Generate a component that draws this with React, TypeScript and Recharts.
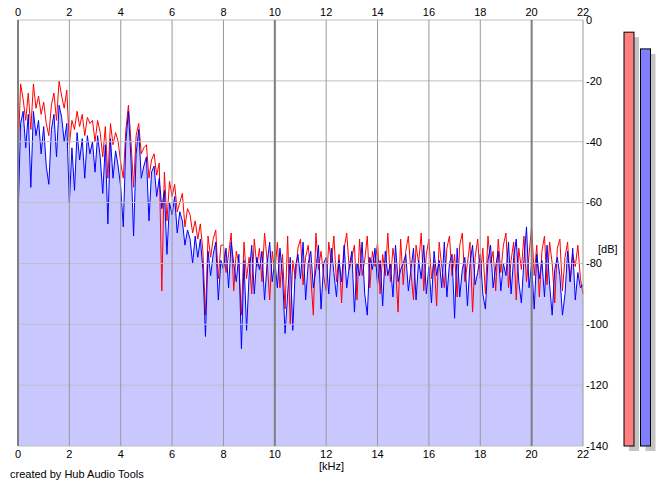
import {
  ComposedChart,
  BarChart,
  Area,
  Line,
  Bar,
  XAxis,
  YAxis,
  CartesianGrid,
  ReferenceLine,
} from "recharts";

// spectrum bins every 0.1 kHz, 0 .. 22 kHz
const STEP_KHZ = 0.1;

// lower channel (blue, filled)
const blueDb = [
  -66, -34, -30, -42, -31, -55, -30, -38, -33, -44,
  -35, -48, -54, -36, -31, -45, -28, -32, -40, -34,
  -60, -42, -56, -37, -46, -39, -52, -38, -44, -40,
  -50, -38, -45, -57, -41, -67, -39, -52, -43, -48,
  -55, -68, -40, -30, -46, -71, -44, -36, -52, -48,
  -45, -66, -50, -48, -58, -52, -62, -56, -77, -60,
  -64, -58, -70, -63, -66, -74, -69, -72, -80, -71,
  -78, -72, -82, -104, -76, -84, -77, -73, -92, -79,
  -82, -75, -88, -73, -80, -86, -77, -108, -79, -102,
  -84, -74, -90, -78, -82, -76, -92, -80, -73, -86,
  -79, -88, -75, -84, -103, -90, -78, -102, -81, -77,
  -85, -73, -92, -80, -76, -88, -82, -74, -95, -80,
  -78, -90, -75, -83, -91, -79, -86, -74, -88, -81,
  -76, -96, -80, -84, -73, -90, -97, -78, -82, -75,
  -87, -79, -94, -76, -84, -80, -91, -74, -86, -82,
  -80, -77, -89, -82, -75, -92, -79, -85, -74, -90,
  -81, -93, -76, -84, -79, -88, -73, -91, -80, -77,
  -98, -75, -91, -82, -78, -94, -80, -74, -87, -83,
  -77, -90, -95, -79, -74, -88, -81, -76, -89, -80,
  -84, -73, -90, -78, -72, -86, -93, -79, -68, -88,
  -80, -95, -77, -85, -79, -91, -74, -87, -97, -82,
  -78, -84, -97, -90, -76, -86, -75, -92, -83, -88,
  -87,
];

// upper channel (red)
const redDb = [
  -46, -21, -26, -33, -24, -36, -21, -29, -25, -31,
  -27, -34, -38, -28, -24, -33, -20, -25, -29, -23,
  -41, -33, -36, -30, -35, -31, -38, -32, -34, -33,
  -40, -33, -37, -45, -35, -52, -34, -41, -37, -40,
  -47, -52, -36, -28, -40, -55, -38, -34, -44, -42,
  -41, -52, -46, -44, -51, -47, -89, -50, -66, -53,
  -58, -54, -63, -60, -57, -68, -62, -64, -70, -66,
  -72, -67, -76, -97, -71, -78, -72, -69, -85, -74,
  -74, -83, -77, -70, -89, -76, -80, -97, -73, -85,
  -78, -90, -72, -81, -75, -86, -70, -79, -92, -76,
  -83, -73, -88, -77, -95, -71, -100, -79, -85, -75,
  -72, -87, -78, -74, -84, -97, -70, -82, -76, -84,
  -89, -73, -80, -71, -86, -77, -93, -75, -70, -82,
  -78, -74, -92, -72, -84, -79, -71, -88, -76, -81,
  -73, -90, -77, -84, -70, -86, -75, -81, -96, -72,
  -87, -76, -71, -83, -92, -74, -80, -70, -89, -77,
  -72, -85, -79, -94, -73, -81, -88, -75, -71, -84,
  -77, -91, -74, -70, -86, -80, -73, -96, -78, -72,
  -85, -75, -90, -71, -80, -76, -89, -72, -83, -74,
  -70, -88, -79, -73, -92, -75, -82, -71, -86, -77,
  -68, -84, -74, -91, -76, -71, -87, -73, -80, -93,
  -75, -72, -89, -78, -73, -86, -77, -81, -74, -85,
  -90,
];

const freqTicks = [0, 2, 4, 6, 8, 10, 12, 14, 16, 18, 20, 22];
const dbTicks = [0, -20, -40, -60, -80, -100, -120, -140];
const majorFreqs = [0, 10, 20];

// level meters on the right (dB)
const meterLevels = [-4, -9.5];
const meterColors = ["#ff8080", "#8080ff"];

const data = blueDb.map((b, i) => ({
  f: Math.round(i * STEP_KHZ * 10) / 10,
  blue: b,
  red: redDb[i],
}));

const meterData = meterLevels.map((lvl, i) => ({
  name: i === 0 ? "L" : "R",
  range: [-140, lvl],
  color: meterColors[i],
}));

const FONT = "'Liberation Sans', Arial, sans-serif";
const tickStyle = { fill: "#000", fontSize: 11, fontFamily: FONT };

const MeterShape = (p: any) => {
  const { x, y, width, height, payload } = p;
  return (
    <g>
      <rect x={x + 5} y={y + 5} width={width} height={height} fill="#c4c4c4" />
      <rect
        x={x}
        y={y}
        width={width}
        height={height}
        fill={payload.color}
        stroke="#000"
        strokeWidth={1}
      />
    </g>
  );
};

export default function App() {
  return (
    <div
      style={{
        position: "absolute",
        left: 0,
        top: 0,
        width: 665,
        height: 487,
        background: "#fff",
        fontFamily: FONT,
      }}
    >
      <ComposedChart
        width={665}
        height={487}
        data={data}
        margin={{ top: 0, right: 52, bottom: 21, left: 18 }}
      >
        <XAxis
          xAxisId="top"
          orientation="top"
          dataKey="f"
          type="number"
          domain={[0, 22]}
          ticks={freqTicks}
          interval={0}
          height={20}
          tickLine={false}
          axisLine={false}
          tickSize={0}
          tickMargin={4}
          tick={tickStyle}
        />
        <XAxis
          xAxisId="bottom"
          orientation="bottom"
          dataKey="f"
          type="number"
          domain={[0, 22]}
          ticks={freqTicks}
          interval={0}
          height={20}
          tickLine={false}
          axisLine={false}
          tickSize={0}
          tickMargin={4}
          tick={tickStyle}
        />
        <YAxis
          orientation="right"
          type="number"
          domain={[-140, 0]}
          ticks={dbTicks}
          interval={0}
          width={30}
          tickLine={false}
          axisLine={false}
          tickSize={0}
          tickMargin={3}
          tick={tickStyle}
        />
        <Area
          xAxisId="bottom"
          dataKey="blue"
          type="linear"
          baseValue={-140}
          fill="#c8c8ff"
          fillOpacity={1}
          stroke="none"
          isAnimationActive={false}
        />
        <Line
          xAxisId="bottom"
          dataKey="red"
          type="linear"
          stroke="#ff0000"
          strokeWidth={1}
          dot={false}
          isAnimationActive={false}
        />
        <Line
          xAxisId="bottom"
          dataKey="blue"
          type="linear"
          stroke="#0000ff"
          strokeWidth={1}
          dot={false}
          isAnimationActive={false}
        />
        <CartesianGrid
          xAxisId="bottom"
          stroke="#c0c0c0"
          vertical={false}
          zIndex={1500}
        />
        <CartesianGrid
          xAxisId="bottom"
          stroke="#999999"
          horizontal={false}
          zIndex={1500}
        />
        {majorFreqs.map((f) => (
          <ReferenceLine
            key={f}
            xAxisId="bottom"
            x={f}
            stroke="#808080"
            strokeWidth={2}
            zIndex={1600}
          />
        ))}
      </ComposedChart>

      <div style={{ position: "absolute", left: 615, top: 0 }}>
        <BarChart
          width={50}
          height={487}
          data={meterData}
          margin={{ top: 20, right: 11, bottom: 41, left: 6 }}
        >
          <XAxis dataKey="name" hide />
          <YAxis type="number" domain={[-140, 0]} hide />
          <Bar
            dataKey="range"
            barSize={10}
            shape={MeterShape}
            isAnimationActive={false}
          />
        </BarChart>
      </div>

      <div style={{ position: "absolute", left: 598, top: 243, fontSize: 11 }}>
        [dB]
      </div>
      <div style={{ position: "absolute", left: 319, top: 460, fontSize: 11 }}>
        [kHz]
      </div>
      <div style={{ position: "absolute", left: 10, top: 468, fontSize: 11 }}>
        created by Hub Audio Tools
      </div>
    </div>
  );
}
